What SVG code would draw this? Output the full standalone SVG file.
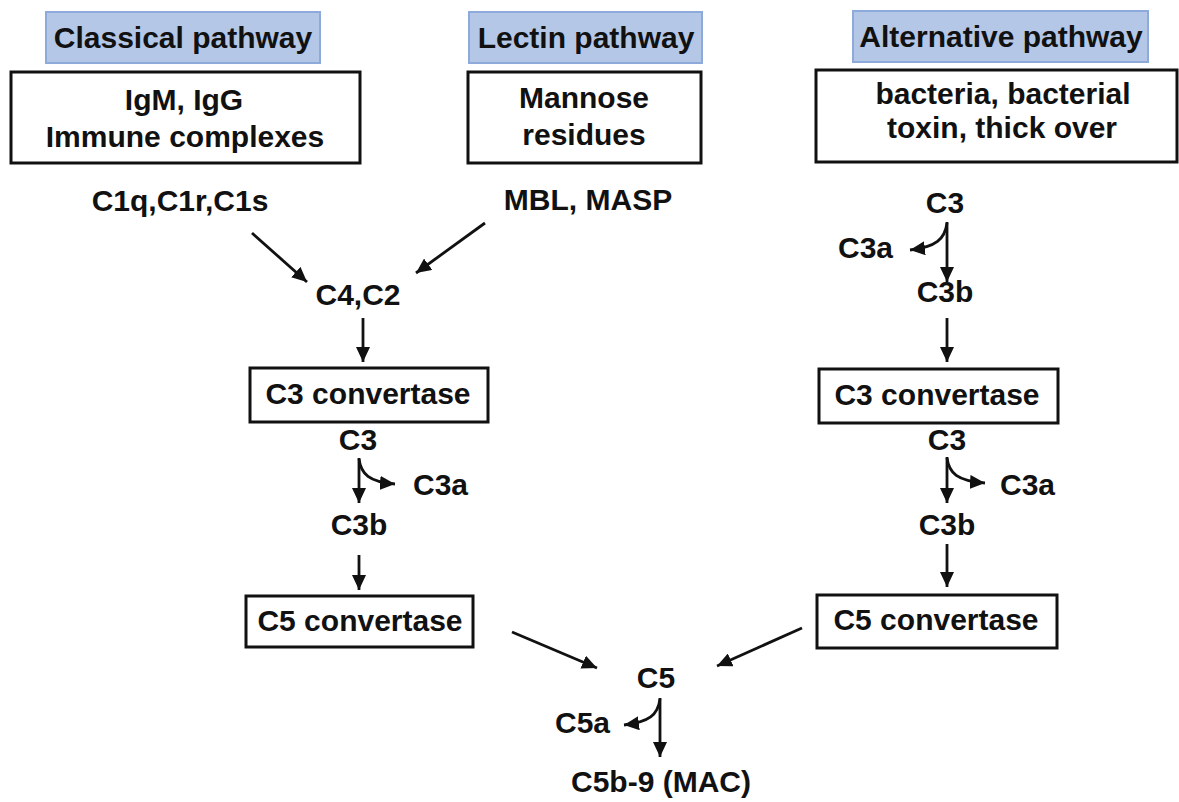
<svg xmlns="http://www.w3.org/2000/svg" width="1179" height="802" viewBox="0 0 1179 802">
<defs>
<style>
text{font-family:"Liberation Sans",Arial,sans-serif;font-weight:bold;font-size:30px;fill:#111;text-anchor:middle}
.hdr{fill:#b4c7e7;stroke:#8eaadb;stroke-width:2}
.box{fill:#fff;stroke:#111;stroke-width:3}
.ln{fill:none;stroke:#111;stroke-width:2.8;marker-end:url(#ah)}
.l{text-anchor:start}
</style>
<marker id="ah" markerUnits="userSpaceOnUse" markerWidth="16" markerHeight="14" refX="15" refY="7" orient="auto">
<path d="M0,0 L15,7 L0,14 z" fill="#111"/>
</marker>
</defs>
<rect width="1179" height="802" fill="#fff"/>

<g id="hdr-classical"><rect class="hdr" x="46" y="12" width="274" height="51"/><text x="183" y="48">Classical pathway</text></g>
<g id="hdr-lectin"><rect class="hdr" x="469" y="12" width="233" height="51"/><text x="586" y="48">Lectin pathway</text></g>
<g id="hdr-alternative"><rect class="hdr" x="853" y="11" width="295" height="51"/><text x="1001" y="47">Alternative pathway</text></g>

<g id="box-igm"><rect class="box" x="11" y="72" width="349" height="91"/><text x="184" y="110">IgM, IgG</text><text x="185" y="147">Immune complexes</text></g>
<g id="box-mannose"><rect class="box" x="468" y="72" width="233" height="91"/><text x="584" y="108">Mannose</text><text x="584" y="145">residues</text></g>
<g id="box-bacteria"><rect class="box" x="816" y="70" width="361" height="92"/><text x="1003" y="104">bacteria, bacterial</text><text x="1002" y="138">toxin, thick over</text></g>

<g id="n-c1"><text x="180" y="211">C1q,C1r,C1s</text></g>
<g id="n-mbl"><text x="588" y="210">MBL, MASP</text></g>
<g id="n-c4c2"><text x="358" y="305">C4,C2</text></g>

<g id="box-c3conv-l"><rect class="box" x="250" y="368" width="238" height="54"/><text x="368" y="404">C3 convertase</text></g>
<g id="n-c3-l"><text x="358" y="450">C3</text></g>
<g id="n-c3a-l"><text class="l" x="413" y="495">C3a</text></g>
<g id="n-c3b-l"><text x="359" y="535">C3b</text></g>
<g id="box-c5conv-l"><rect class="box" x="246" y="596" width="227" height="51"/><text x="360" y="631">C5 convertase</text></g>

<g id="n-c3-rt"><text x="945" y="213">C3</text></g>
<g id="n-c3a-rt"><text class="l" x="838" y="258">C3a</text></g>
<g id="n-c3b-rt"><text x="945" y="302">C3b</text></g>
<g id="box-c3conv-r"><rect class="box" x="819" y="369" width="239" height="54"/><text x="937" y="405">C3 convertase</text></g>
<g id="n-c3-r"><text x="947" y="450">C3</text></g>
<g id="n-c3a-r"><text class="l" x="1000" y="495">C3a</text></g>
<g id="n-c3b-r"><text x="947" y="535">C3b</text></g>
<g id="box-c5conv-r"><rect class="box" x="817" y="595" width="240" height="53"/><text x="936" y="630">C5 convertase</text></g>

<g id="n-c5"><text x="656" y="688">C5</text></g>
<g id="n-c5a"><text class="l" x="555" y="733">C5a</text></g>
<g id="n-mac"><text x="661" y="792">C5b-9 (MAC)</text></g>

<g id="connectors">
<line class="ln" x1="252" y1="233" x2="307" y2="282"/>
<line class="ln" x1="485" y1="223" x2="416" y2="273"/>
<line class="ln" x1="363" y1="318" x2="363" y2="362"/>
<line class="ln" x1="359" y1="458" x2="359" y2="503"/>
<path class="ln" d="M359,459 C361,474 369,482 395,484"/>
<line class="ln" x1="359" y1="555" x2="359" y2="590"/>

<line class="ln" x1="947" y1="222" x2="947" y2="282"/>
<path class="ln" d="M947,223 C945,239 936,247 910,250"/>
<line class="ln" x1="947" y1="318" x2="947" y2="362"/>
<line class="ln" x1="947" y1="457" x2="947" y2="503"/>
<path class="ln" d="M947,458 C949,473 957,481 985,483"/>
<line class="ln" x1="947" y1="544" x2="947" y2="587"/>

<line class="ln" x1="512" y1="632" x2="597" y2="668"/>
<line class="ln" x1="802" y1="628" x2="717" y2="666"/>
<line class="ln" x1="660" y1="698" x2="660" y2="757"/>
<path class="ln" d="M660,699 C658,715 649,722 624,725"/>
</g>
</svg>
